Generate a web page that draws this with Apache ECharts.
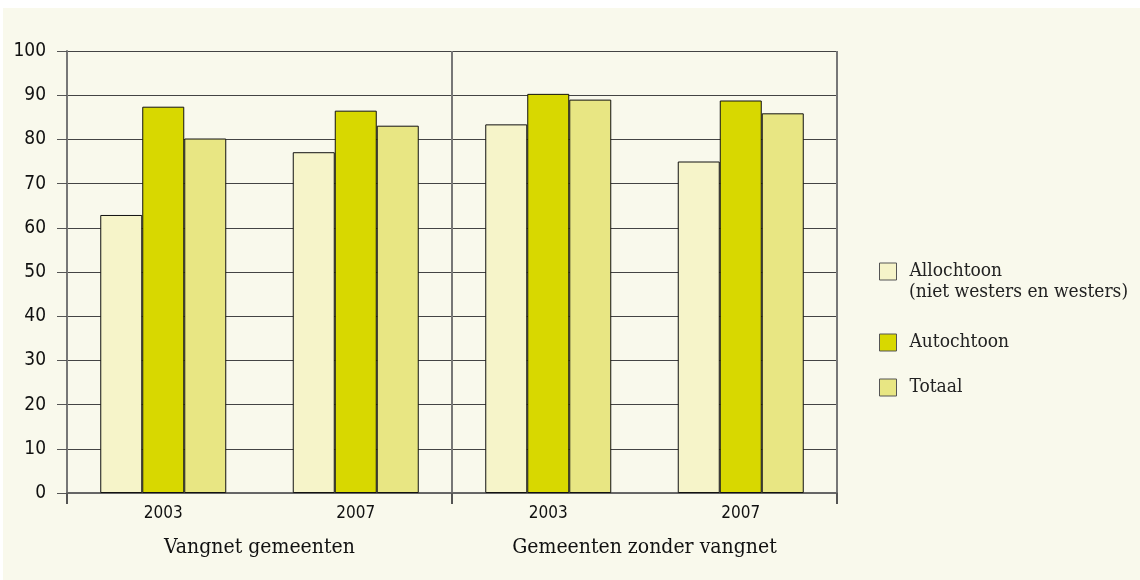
<!DOCTYPE html>
<html>
<head>
<meta charset="utf-8">
<script src="https://cdn.jsdelivr.net/npm/echarts@6/dist/echarts.min.js"></script>
<style>
  html, body { margin: 0; padding: 0; background: #ffffff; }
  #chart { width: 1140px; height: 580px; }
</style>
</head>
<body>
<div id="chart"></div>
<script>
// Data
var years = ['2003', '2007', '2003', '2007'];
var groups = ['Vangnet gemeenten', 'Gemeenten zonder vangnet'];
var allochtoon = [62.9, 77.1, 83.4, 75.0];
var autochtoon = [87.4, 86.5, 90.3, 88.8];
var totaal = [80.2, 83.1, 89.0, 85.9];
var seriesNames = ['Allochtoon', 'Autochtoon', 'Totaal'];
var seriesColors = ['#f6f4c9', '#d8d800', '#e8e683'];

var serif = '"DejaVu Serif Condensed", "DejaVu Serif", serif';
var sans = '"DejaVu Sans Condensed", "DejaVu Sans", sans-serif';

var chart = echarts.init(document.getElementById('chart'));

function bar(name, values, color) {
  return {
    name: name,
    type: 'bar',
    xAxisIndex: 0,
    data: values,
    barWidth: 42,
    barGap: '0%',
    itemStyle: { color: color, borderColor: '#111', borderWidth: 1 },
    emphasis: { disabled: true }
  };
}

// one legend per item, the gaps between them are not even
function legendAt(name, top) {
  return {
    data: [name],
    left: 874,
    top: top - 5,
    orient: 'vertical',
    icon: 'rect',
    itemWidth: 17,
    itemHeight: 17,
    selectedMode: false,
    itemStyle: { borderColor: '#555', borderWidth: 1 },
    textStyle: { fontFamily: serif, fontSize: 19, color: '#222', padding: [0, 0, 0, 8] }
  };
}

var option = {
  animation: false,
  backgroundColor: '#ffffff',
  graphic: [
    {
      type: 'rect',
      z: -10,
      shape: { x: 3, y: 8, width: 1137, height: 572 },
      style: { fill: '#f9f9ec' },
      silent: true
    },
    {
      type: 'text',
      left: 909,
      top: 283,
      style: { text: '(niet westers en westers)', font: '19px ' + serif, fill: '#222' }
    }
  ],
  legend: [
    legendAt(seriesNames[0], 262),
    legendAt(seriesNames[1], 333),
    legendAt(seriesNames[2], 378)
  ],
  grid: { left: 67, right: 303, top: 51, bottom: 87 },
  xAxis: [
    {
      type: 'category',
      data: years,
      position: 'bottom',
      axisLine: { show: true, lineStyle: { color: '#666', width: 2 } },
      axisTick: { show: false },
      axisLabel: { fontFamily: sans, fontSize: 17, color: '#111', margin: 12 },
      splitLine: { show: false }
    },
    {
      type: 'category',
      data: groups,
      position: 'bottom',
      axisLine: { show: false },
      axisTick: { show: true, length: 11, lineStyle: { color: '#555', width: 2 } },
      axisLabel: { fontFamily: serif, fontSize: 21, color: '#111', margin: 44 },
      splitLine: { show: true, lineStyle: { color: '#777', width: 2 } }
    }
  ],
  yAxis: {
    type: 'value',
    min: 0,
    max: 100,
    interval: 10,
    axisLine: { show: true, lineStyle: { color: '#777', width: 2 } },
    axisTick: { show: true, length: 10, lineStyle: { color: '#555', width: 1 } },
    axisLabel: { fontFamily: sans, fontSize: 19, color: '#111', margin: 21 },
    splitLine: { show: true, lineStyle: { color: '#444', width: 1 } }
  },
  series: [
    bar(seriesNames[0], allochtoon, seriesColors[0]),
    bar(seriesNames[1], autochtoon, seriesColors[1]),
    bar(seriesNames[2], totaal, seriesColors[2])
  ]
};

chart.setOption(option);
</script>
</body>
</html>
